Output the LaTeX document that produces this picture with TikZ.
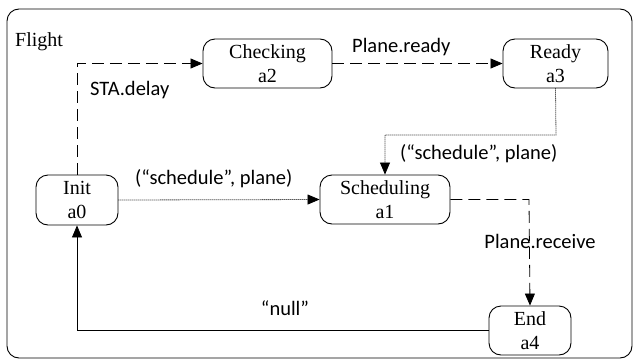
\documentclass[tikz,border=0pt]{standalone}
\usepackage{fontspec}
\setmainfont{Liberation Serif}
\newfontfamily\lblfont{Carlito}
\usetikzlibrary{arrows.meta}
\begin{document}
\begin{tikzpicture}[x=1pt,y=-1pt,
  state/.style={draw,rounded corners=12pt,align=center,font=\fontsize{20}{24}\selectfont,inner sep=0pt,line width=0.9pt},
  lbl/.style={font=\lblfont\fontsize{20.5}{24}\selectfont,inner sep=0pt},
  arr/.style={-{Triangle[length=12pt,width=10pt]},line width=0.8pt},
  dsh/.style={dash pattern=on 12pt off 6pt},
  dot/.style={dash pattern=on 1pt off 1pt}]
\useasboundingbox (0,0) rectangle (635,362);
\draw[rounded corners=12pt,line width=0.9pt] (7,9) rectangle (632,358);
\node[anchor=west,font=\fontsize{20}{24}\selectfont,inner sep=0pt] (title) at (15,42) {Flight};
\node[state,minimum width=129pt,minimum height=49pt] (chk) at (267.5,63.5) {Checking\\a2};
\node[state,minimum width=105pt,minimum height=49pt] (rdy) at (555.5,63.5) {Ready\\a3};
\node[state,minimum width=82pt,minimum height=50pt] (init) at (77,200) {Init\\a0};
\node[state,minimum width=130pt,minimum height=49pt] (sch) at (385,199.5) {Scheduling\\a1};
\node[state,minimum width=82pt,minimum height=49pt] (end) at (530,330.5) {End\\a4};
\coordinate (c1) at (77,63.5);
\coordinate (c2) at (556,135);
\coordinate (c3) at (385,135);
\coordinate (c4) at (529,199.5);
\coordinate (c5) at (77,330.5);
\draw[arr,dsh] (init.north) -- (c1) -- (chk.west);
\draw[arr,dsh] (chk.east) -- (rdy.west);
\draw[arr,dot] (rdy.south) -- (c2) -- (c3) -- (sch.north);
\draw[arr,dot] (init.east) -- (sch.west);
\draw[arr,dsh] (sch.east) -- (c4) -- (end.north);
\draw[arr] (end.west) -- (c5) -- (init.south);
\node[lbl,anchor=west] (l1) at (90,90) {STA.delay};
\node[lbl,anchor=west] (l2) at (352,47) {Plane.ready};
\node[lbl,anchor=west] (l3) at (400,154) {(“schedule”, plane)};
\node[lbl,anchor=west] (l4) at (135,179) {(“schedule”, plane)};
\node[lbl] (l5) at (540,241) {Plane.receive};
\node[lbl] (l6) at (285,308) {“null”};
\end{tikzpicture}
\end{document}
